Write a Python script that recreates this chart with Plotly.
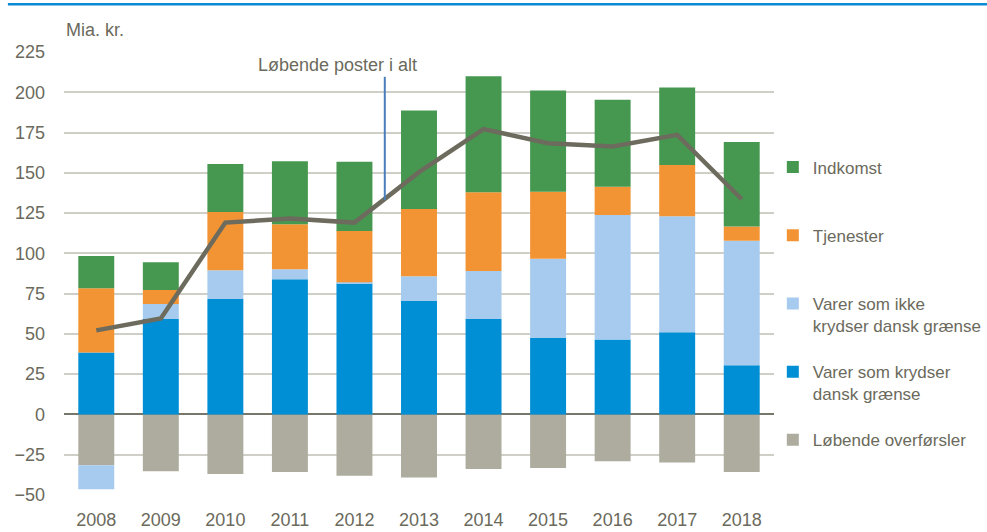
import plotly.graph_objects as go

years = [2008, 2009, 2010, 2011, 2012, 2013, 2014, 2015, 2016, 2017, 2018]
indkomst = [20.1, 17.3, 29.8, 39.1, 42.9, 61.1, 72.0, 62.8, 53.9, 48.1, 52.6]
tjenester = [39.8, 8.7, 36.2, 28.0, 31.9, 41.8, 48.9, 41.6, 17.6, 31.9, 8.7]
varer_ikke = [-14.9, 9.3, 17.9, 6.2, 0.6, 15.4, 29.9, 49.3, 77.2, 71.9, 77.3]
varer_krydser = [38.5, 59.2, 71.6, 83.9, 81.4, 70.4, 59.2, 47.4, 46.6, 51.1, 30.6]
overfoersler = [-31.5, -35.2, -36.9, -35.7, -38.1, -39.2, -33.8, -33.2, -29.0, -29.8, -35.7]
i_alt = [52.2, 59.6, 119.1, 121.6, 119.1, 150.4, 177.1, 168.4, 166.3, 173.6, 133.6]
y_ticks = [-50, -25, 0, 25, 50, 75, 100, 125, 150, 175, 200, 225]

FONT = "Liberation Sans Narrow, Arial Narrow, Liberation Sans, Arial, sans-serif"
TXT = "#6b6a5c"

fig = go.Figure()
# (name, values, colour, legend rank) -- trace order = stacking order
series = [
    ("Løbende overførsler<br> ", overfoersler, "#aeac9e", 5),
    ("Varer som krydser<br>dansk grænse", varer_krydser, "#008fd5", 4),
    ("Varer som ikke<br>krydser dansk grænse", varer_ikke, "#a6cbee", 3),
    ("Tjenester<br> ", tjenester, "#f29433", 2),
    ("Indkomst<br> ", indkomst, "#469850", 1),
]
for i, (name, vals, col, rank) in enumerate(series):
    fig.add_trace(go.Bar(x=years, y=vals, name=name, marker_color=col,
                         marker_line_width=0, legendgroup=str(i), legendrank=rank))

fig.add_trace(go.Scatter(x=years, y=i_alt, mode="lines", showlegend=False,
                         line=dict(color="#6d6b5d", width=4.5)))

fig.update_layout(
    width=987, height=532,
    barmode="relative", bargap=0.443,
    plot_bgcolor="white", paper_bgcolor="white",
    margin=dict(l=64, r=213, t=52, b=36.7, autoexpand=False),
    font=dict(family=FONT, size=18, color=TXT),
    legend=dict(xref="container", yref="container", x=0.783, xanchor="left",
                y=0.719, yanchor="top", maxheight=480,
                traceorder="grouped", valign="top", tracegroupgap=21,
                font=dict(size=17, color=TXT), bgcolor="rgba(0,0,0,0)"),
    showlegend=True,
)
fig.update_xaxes(range=[2007.5, 2018.5], tickvals=years, showgrid=False, automargin=False,
                 ticks="", zeroline=False, showline=False, ticklabelstandoff=12)
fig.update_yaxes(range=[-50, 225], tickvals=y_ticks, showgrid=True, automargin=False,
                 gridcolor="#cfcfc7", gridwidth=1.5, zeroline=True,
                 zerolinecolor="#77766a", zerolinewidth=2, ticks="",
                 showline=False, ticklabelstandoff=18)

fig.add_annotation(text="Mia. kr.", xref="paper", yref="paper", x=0.0, y=1.049,
                   xanchor="left", yanchor="middle", showarrow=False,
                   font=dict(size=18, color=TXT))
fig.add_annotation(text="Løbende poster i alt", xref="x", yref="y", x=2011.73, y=216.8,
                   xanchor="center", yanchor="middle", showarrow=False,
                   font=dict(size=18, color=TXT))
fig.add_shape(type="line", xref="x", yref="y", x0=2012.47, x1=2012.47, y0=209.6, y1=133.2,
              line=dict(color="#4a7ebb", width=2))
fig.add_shape(type="line", xref="paper", yref="paper", x0=-0.079, x1=1.31, y0=1.108, y1=1.108,
              line=dict(color="#0a8ad2", width=2.5))

fig.write_html("out.html", config={"displayModeBar": False},
               post_script="document.body.style.margin='0';document.body.style.overflow='hidden';")
